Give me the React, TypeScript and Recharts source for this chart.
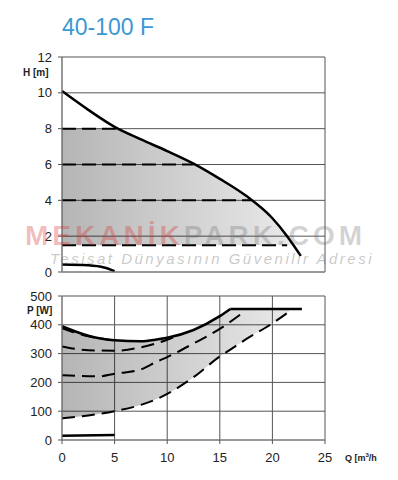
import React from 'react'
import { ComposedChart, Line, Area, XAxis, YAxis, CartesianGrid } from 'recharts'

// Q axis ticks shared by both panels
const qTicks = [0, 5, 10, 15, 20, 25]
const hTicks = [0, 2, 4, 6, 8, 10, 12]
const pTicks = [0, 100, 200, 300, 400, 500]

// head curves H [m]
const hMax = [
  { q: 0, h: 10.1 }, { q: 2.5, h: 9.05 }, { q: 5, h: 8.1 }, { q: 7.5, h: 7.4 },
  { q: 10, h: 6.75 }, { q: 12.5, h: 6.05 }, { q: 15, h: 5.2 }, { q: 17.5, h: 4.25 },
  { q: 20, h: 3.0 }, { q: 21.4, h: 2.0 }, { q: 22.7, h: 0.9 },
]
const hMin = [{ q: 0, h: 0.42 }, { q: 2.5, h: 0.37 }, { q: 4, h: 0.25 }, { q: 5, h: 0.05 }]
const hBandQ = [0, 5.2, 7.5, 10, 12.5, 15, 17.5, 20, 21.4, 22.0]
const hBandTop = [8, 8, 7.4, 6.75, 6.05, 5.2, 4.25, 3.0, 2.0, 1.5]
const hBandBottom = 1.5
const hConst = [
  { h: 8, qEnd: 5.3 },
  { h: 6, qEnd: 12.5 },
  { h: 4, qEnd: 18 },
  { h: 1.5, qEnd: 21.4 },
]

// power curves P [W]
const pMaxRise = [
  { q: 0, p: 395 }, { q: 2.5, p: 362 }, { q: 5, p: 346 }, { q: 7.5, p: 343 },
  { q: 9, p: 349 }, { q: 10, p: 355 }, { q: 12.5, p: 382 }, { q: 15, p: 430 }, { q: 16, p: 455 },
]
const pMaxFlat = [{ q: 16, p: 455 }, { q: 22.8, p: 455 }]
const pMin = [{ q: 0, p: 15 }, { q: 5, p: 17 }]
const pLowQ = [0, 2.5, 5, 7.5, 9, 10, 12.5, 15, 16, 17.5, 20, 21.6]
const pLow = [75, 85, 100, 122, 142, 160, 218, 290, 314, 350, 405, 446]
const p8m = [{ q: 0, p: 388 }, { q: 2.5, p: 360 }, { q: 5, p: 346 }]
const p6m = [{ q: 0, p: 325 }, { q: 2.5, p: 312 }, { q: 5, p: 310 }, { q: 7.5, p: 322 }, { q: 10, p: 348 }, { q: 10.6, p: 356 }]
const p4m = [
  { q: 0, p: 225 }, { q: 3.5, p: 221 }, { q: 5, p: 230 }, { q: 7.5, p: 245 }, { q: 9, p: 272 },
  { q: 10, p: 288 }, { q: 12.5, p: 335 }, { q: 15, p: 386 }, { q: 17.3, p: 445 },
]
const pLowLine = pLowQ.map((q, i) => ({ q, p: pLow[i] }))

const hBand = hBandQ.map((q, i) => ({ q, band: [hBandBottom, hBandTop[i]] }))
// band under the rising part of the max power curve, then under its flat part
const pBandRise = pMaxRise.map((d) => ({ q: d.q, band: [pLow[pLowQ.indexOf(d.q)], d.p] }))
const pBandFlat = pLowQ.filter((q) => q >= 16).map((q) => ({ q, band: [pLow[pLowQ.indexOf(q)], 455] }))

const font = '"Liberation Sans", Arial, sans-serif'
const tickStyle = { fontSize: 13, fill: '#222', fontFamily: font }
const gridColor = '#555'

function Fill({ id, x1, x2 }: { id: string; x1: number; x2: number }) {
  return (
    <defs>
      <linearGradient id={id} gradientUnits="userSpaceOnUse" x1={x1} y1="0" x2={x2} y2="0">
        <stop offset="0%" stopColor="#000" stopOpacity={0.29} />
        <stop offset="100%" stopColor="#000" stopOpacity={0.08} />
      </linearGradient>
    </defs>
  )
}

export default function App() {
  return (
    <div style={{ position: 'absolute', left: 0, top: 0, width: 398, height: 480, background: '#fff', fontFamily: font, overflow: 'hidden' }}>
      <div style={{ position: 'absolute', left: 62, top: 14, fontSize: 23, color: '#3b98d4' }}>40-100 F</div>

      <div style={{ position: 'absolute', left: 0, top: 0 }}>
        <ComposedChart width={398} height={280} margin={{ top: 57, right: 73, left: 0, bottom: 7 }}>
          <Fill id="hFill" x1={62} x2={300} />
          <CartesianGrid stroke={gridColor} strokeWidth={1} />
          <XAxis type="number" dataKey="q" domain={[0, 25]} ticks={qTicks} tick={false} tickLine={false} height={1} axisLine={{ stroke: '#888' }} />
          <YAxis type="number" domain={[0, 12]} ticks={hTicks} width={62} tickSize={4} tickMargin={6} tick={tickStyle} axisLine={{ stroke: '#888' }} tickLine={{ stroke: gridColor }} />
          <Area data={hBand} dataKey="band" type="monotone" stroke="none" fill="url(#hFill)" fillOpacity={1} isAnimationActive={false} />
          {hConst.map((c) => (
            <Line key={c.h} data={[{ q: 0, h: c.h }, { q: c.qEnd, h: c.h }]} dataKey="h" type="linear" stroke="#000" strokeWidth={2} strokeDasharray="14 6" dot={false} isAnimationActive={false} />
          ))}
          <Line data={hMax} dataKey="h" type="monotone" stroke="#000" strokeWidth={2.5} dot={false} isAnimationActive={false} />
          <Line data={hMin} dataKey="h" type="monotone" stroke="#000" strokeWidth={2.5} dot={false} isAnimationActive={false} />
        </ComposedChart>
      </div>

      <div style={{ position: 'absolute', left: 0, top: 270 }}>
        <ComposedChart width={398} height={210} margin={{ top: 26, right: 73, left: 0, bottom: 10 }}>
          <Fill id="pFill" x1={62} x2={300} />
          <CartesianGrid stroke={gridColor} strokeWidth={1} />
          <XAxis type="number" dataKey="q" domain={[0, 25]} ticks={qTicks} height={30} tickSize={4} tickMargin={9} tick={tickStyle} axisLine={{ stroke: '#888' }} tickLine={{ stroke: gridColor }} />
          <YAxis type="number" domain={[0, 500]} ticks={pTicks} width={62} tickSize={4} tickMargin={6} tick={tickStyle} axisLine={{ stroke: '#888' }} tickLine={{ stroke: gridColor }} />
          <Area data={pBandRise} dataKey="band" type="monotone" stroke="none" fill="url(#pFill)" fillOpacity={1} isAnimationActive={false} />
          <Area data={pBandFlat} dataKey="band" type="monotone" stroke="none" fill="url(#pFill)" fillOpacity={1} isAnimationActive={false} />
          {[p8m, p6m, p4m, pLowLine].map((d, i) => (
            <Line key={i} data={d} dataKey="p" type="monotone" stroke="#000" strokeWidth={2} strokeDasharray="13 7" dot={false} isAnimationActive={false} />
          ))}
          <Line data={pMaxRise} dataKey="p" type="monotone" stroke="#000" strokeWidth={2.5} dot={false} isAnimationActive={false} />
          <Line data={pMaxFlat} dataKey="p" type="linear" stroke="#000" strokeWidth={2.5} dot={false} isAnimationActive={false} />
          <Line data={pMin} dataKey="p" type="linear" stroke="#000" strokeWidth={2.5} dot={false} isAnimationActive={false} />
        </ComposedChart>
      </div>

      <div style={{ position: 'absolute', left: 23, top: 67, fontSize: 10, fontWeight: 'bold', color: '#222' }}>H [m]</div>
      <div style={{ position: 'absolute', left: 27, top: 305, fontSize: 10, fontWeight: 'bold', color: '#222' }}>P [W]</div>
      <div style={{ position: 'absolute', left: 345, top: 452, width: 32, overflow: 'hidden', whiteSpace: 'nowrap', fontSize: 9, fontWeight: 'bold', color: '#222' }}>
        Q [m<sup style={{ fontSize: 6 }}>3</sup>/h]
      </div>

      <div style={{ position: 'absolute', left: 25, top: 220, fontSize: 28, fontWeight: 'bold', letterSpacing: 4, whiteSpace: 'nowrap', pointerEvents: 'none' }}>
        <span style={{ color: 'rgba(215,45,45,0.33)' }}>MEKANİK</span>
        <span style={{ color: 'rgba(100,100,100,0.28)' }}>PARK.COM</span>
      </div>
      <div style={{ position: 'absolute', left: 50, top: 250, fontSize: 15, fontStyle: 'italic', letterSpacing: 2.5, whiteSpace: 'nowrap', color: 'rgba(110,110,110,0.38)', pointerEvents: 'none' }}>
        Tesisat Dünyasının Güvenilir Adresi
      </div>
    </div>
  )
}
